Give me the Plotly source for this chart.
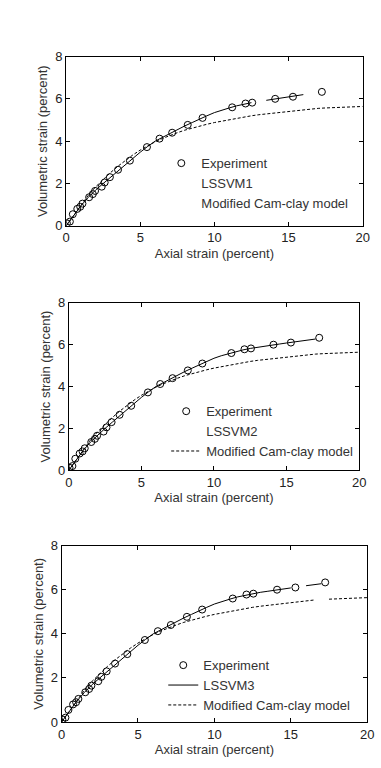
import plotly.graph_objects as go

# ---------------- data ----------------
exp_strain = [0.05, 0.25, 0.45, 0.75, 0.95, 1.1, 1.55, 1.8, 1.95, 2.4, 2.6, 2.95, 3.5, 4.3,
              5.45, 6.3, 7.15, 8.2, 9.2, 11.2, 12.1, 12.55, 14.1, 15.3, 17.25]
exp_vol = [0.12, 0.2, 0.55, 0.8, 0.9, 1.05, 1.35, 1.5, 1.65, 1.85, 2.05, 2.3, 2.65, 3.08,
           3.72, 4.12, 4.4, 4.77, 5.1, 5.6, 5.78, 5.82, 6.0, 6.1, 6.33]

lssvm_strain = [0, 0.5, 1, 1.5, 2, 2.5, 3, 3.5, 4, 4.5, 5, 5.5, 6, 6.5, 7, 7.5, 8, 8.5, 9, 9.5,
                10, 10.5, 11, 11.5, 12, 12.5, 13, 13.5, 14, 14.5, 15, 15.5, 16, 16.5, 17]
lssvm1_vol = [0.0, 0.5, 0.95, 1.35, 1.7, 2.0, 2.3, 2.6, 2.9, 3.2, 3.48, 3.75, 4.0, 4.18, 4.37,
              4.55, 4.72, 4.88, 5.05, 5.2, 5.35, 5.47, 5.57, 5.67, 5.75, 5.82, None, 5.93,
              5.98, 6.03, 6.08, 6.13, 6.2, None, None]
lssvm2_vol = [0.0, 0.5, 0.95, 1.35, 1.7, 2.0, 2.3, 2.6, 2.9, 3.2, 3.48, 3.75, 4.0, 4.18, 4.37,
              4.55, 4.72, 4.88, 5.05, 5.2, 5.35, 5.47, 5.57, 5.67, 5.75, 5.82, 5.88, 5.93,
              5.98, 6.03, 6.08, 6.13, 6.18, 6.22, 6.27]
lssvm3_vol = [0.0, 0.5, 0.95, 1.35, 1.7, 2.0, 2.3, 2.6, 2.9, 3.2, 3.48, 3.75, 4.0, 4.18, 4.37,
              4.55, 4.72, 4.88, 5.05, 5.2, 5.35, 5.47, 5.57, 5.67, 5.75, 5.82, 5.88, 5.93,
              5.98, 6.03, 6.08, None, 6.18, 6.22, 6.27]

cam_strain = [0, 0.5, 1, 1.5, 2, 2.5, 3, 3.5, 4, 4.5, 5, 5.5, 6, 6.5, 7, 7.5, 8, 8.5, 9, 9.5,
              10, 10.5, 11, 11.5, 12, 12.5, 13, 13.5, 14, 14.5, 15, 15.5, 16, 16.5, 17, 17.5,
              18, 18.5, 19, 19.5, 20]
cam_vol = [0.0, 0.5, 1.0, 1.45, 1.85, 2.2, 2.52, 2.82, 3.1, 3.35, 3.58, 3.78, 3.97, 4.13, 4.28,
           4.4, 4.52, 4.62, 4.72, 4.8, 4.88, 4.95, 5.02, 5.09, 5.15, 5.2, 5.25, 5.29, 5.33,
           5.37, 5.42, 5.46, 5.5, 5.53, 5.55, 5.57, 5.59, 5.61, 5.62, 5.63, 5.64]
cam3_vol = [0.0, 0.5, 1.0, 1.45, 1.85, 2.2, 2.52, 2.82, 3.1, 3.35, 3.58, 3.78, 3.97, 4.13, 4.28,
            4.4, 4.52, 4.62, 4.72, 4.8, 4.88, 4.95, 5.02, 5.09, 5.15, 5.2, 5.25, 5.29, 5.33,
            5.37, 5.42, 5.46, 5.5, 5.53, None, 5.57, 5.59, 5.61, 5.62, 5.63, 5.64]

panel_names = ["LSSVM1", "LSSVM2", "LSSVM3"]
lssvm_series = [lssvm1_vol, lssvm2_vol, lssvm3_vol]
cam_series = [cam_vol, cam_vol, cam3_vol]
x_ticks = [0, 5, 10, 15, 20]
y_ticks = [0, 2, 4, 6, 8]

# which legend entries show a line sample (as in the reference picture)
show_lssvm_sample = [False, False, True]
show_cam_sample = [False, True, True]

# ---------------- layout geometry ----------------
W, H = 381, 768
panels = [  # left, right, top, bottom in pixels
    (64, 369.3, 50.5, 223.2),
    (66.7, 365.7, 301.7, 472.5),
    (59.3, 374.0, 549.3, 729.3),
]
legend_pos = [(162, 144), (167, 397), (164, 656)]  # pixel x,y of legend top-left

FONT = "Liberation Sans, Arial, sans-serif"
fig = go.Figure()
layout = dict(
    width=W, height=H, margin=dict(l=0, r=0, t=0, b=0),
    paper_bgcolor="white", plot_bgcolor="white",
    font=dict(family=FONT, size=13, color="#222"),
)

for i in range(3):
    n = "" if i == 0 else str(i + 1)
    xa, ya = "x" + n, "y" + n
    lg = "legend" + n
    fig.add_trace(go.Scatter(
        x=exp_strain, y=exp_vol, mode="markers", name="Experiment",
        marker=dict(symbol="circle-open", size=7, color="black", line=dict(width=1)),
        xaxis=xa, yaxis=ya, legend=lg))
    fig.add_trace(go.Scatter(
        x=lssvm_strain, y=lssvm_series[i], mode="lines", name=panel_names[i],
        line=dict(color="black", width=1), connectgaps=False,
        showlegend=show_lssvm_sample[i],
        xaxis=xa, yaxis=ya, legend=lg))
    if not show_lssvm_sample[i]:
        fig.add_trace(go.Scatter(
            x=[None], y=[None], mode="lines", name=panel_names[i],
            line=dict(color="rgba(0,0,0,0)", width=0), hoverinfo="skip",
            xaxis=xa, yaxis=ya, legend=lg))
    fig.add_trace(go.Scatter(
        x=cam_strain, y=cam_series[i], mode="lines", name="Modified Cam-clay model",
        line=dict(color="black", width=1, dash="3px,2px"), connectgaps=False,
        showlegend=show_cam_sample[i],
        xaxis=xa, yaxis=ya, legend=lg))
    if not show_cam_sample[i]:
        fig.add_trace(go.Scatter(
            x=[None], y=[None], mode="lines", name="Modified Cam-clay model",
            line=dict(color="rgba(0,0,0,0)", width=0), hoverinfo="skip",
            xaxis=xa, yaxis=ya, legend=lg))

    l, r, t, b = panels[i]
    axis_common = dict(showline=True, linecolor="black", linewidth=1, mirror="ticks",
                       ticks="inside", ticklen=4, tickcolor="black", showgrid=False,
                       zeroline=False, tickfont=dict(size=13, color="#222"))
    layout["xaxis" + n] = dict(
        domain=[l / W, r / W], anchor=ya, range=[0, 20], tickvals=x_ticks,
        title=dict(text="Axial strain (percent)", font=dict(size=13, color="#333"), standoff=4),
        **axis_common)
    layout["yaxis" + n] = dict(
        domain=[1 - b / H, 1 - t / H], anchor=xa, range=[0, 8], tickvals=y_ticks,
        title=dict(text="Volumetric strain (percent)", font=dict(size=13, color="#333"), standoff=4),
        **axis_common)
    lx, ly = legend_pos[i]
    layout[lg] = dict(x=lx / W, y=1 - ly / H, xanchor="left", yanchor="top",
                      bgcolor="rgba(0,0,0,0)", borderwidth=0,
                      font=dict(size=13, color="#333"), tracegroupgap=0,
                      itemwidth=30)

fig.update_layout(**layout)
fig.write_html("out.html")
